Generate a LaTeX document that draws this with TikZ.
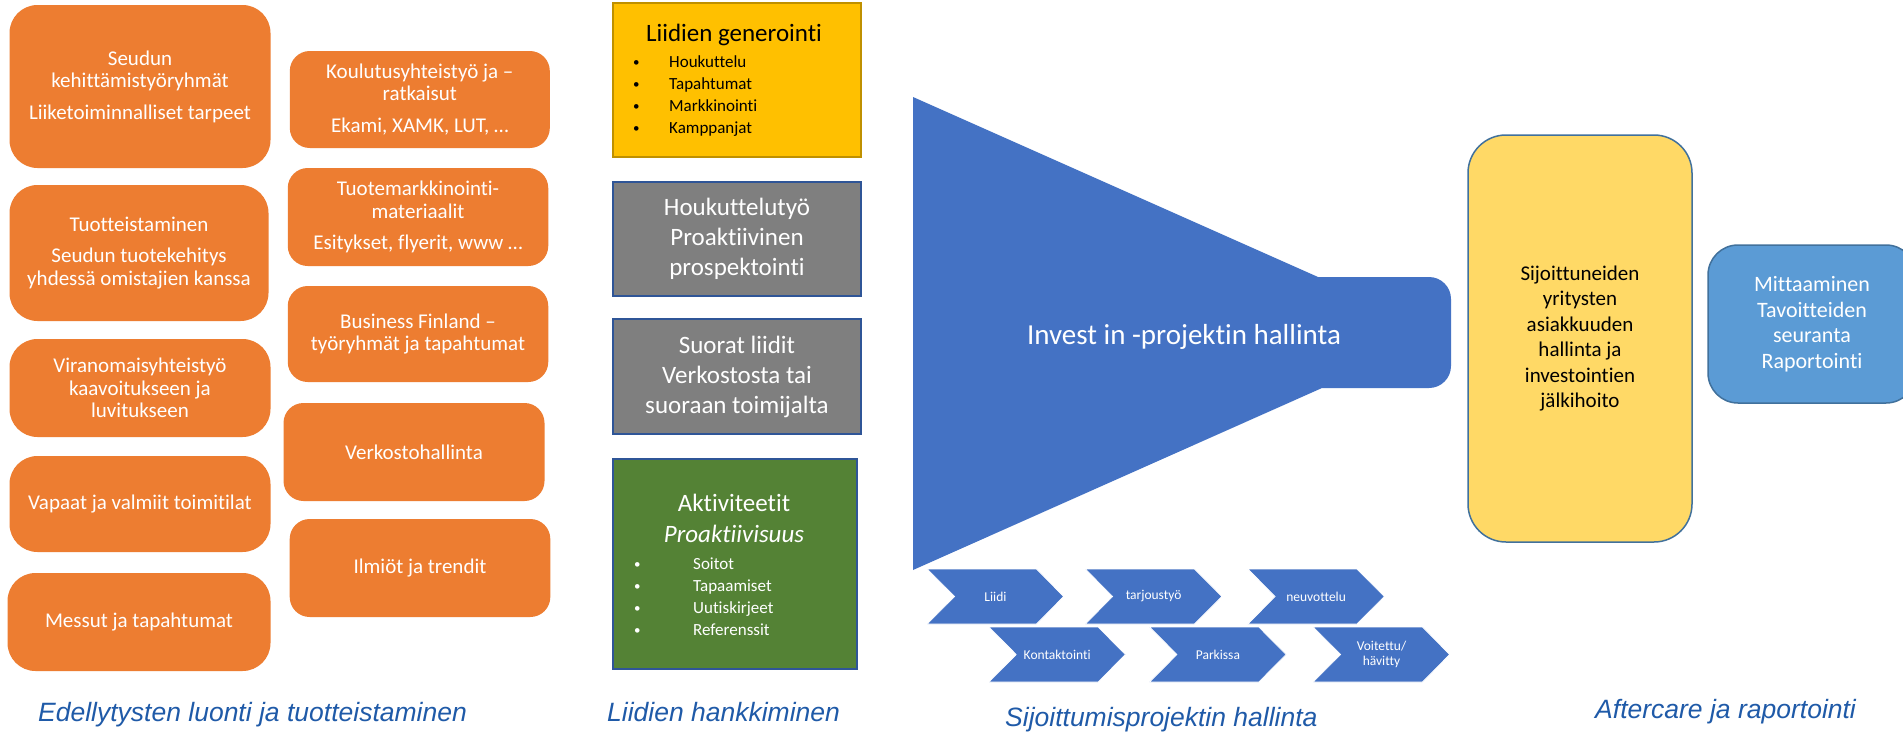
\documentclass[tikz,border=0pt]{standalone}
\usepackage{fontspec}
\setmainfont[Ligatures=NoCommon]{Carlito}
\newfontfamily\capfont{Liberation Sans}
\definecolor{orgc}{HTML}{ED7D31}
\definecolor{goldc}{HTML}{FFC000}
\definecolor{goldb}{HTML}{BF9000}
\definecolor{grayc}{HTML}{7F7F7F}
\definecolor{navyb}{HTML}{2F5597}
\definecolor{greenc}{HTML}{548235}
\definecolor{func}{HTML}{4472C4}
\definecolor{lyel}{HTML}{FFD966}
\definecolor{steelb}{HTML}{41719C}
\definecolor{lblue}{HTML}{5B9BD5}
\definecolor{capblue}{HTML}{1F5AA8}
\newcommand\chevr[4]{%
  \fill[func, draw=white, line width=0.6pt] (#2,#3) -- ++(109,0) -- ++(27.3,27.5) -- ++(-27.3,27.5) -- ++(-109,0) -- ++(27.3,-27.5) -- cycle;
  \node[chtext] (#1) at (#2+68.2,#3+27.5) {#4};
}
\begin{document}
\begin{tikzpicture}[x=1pt,y=-1pt,
  sz/.style 2 args={minimum width=#1pt, minimum height=#2pt},
  obox/.style={rectangle, rounded corners=28pt, fill=orgc, text=white, inner sep=0pt, align=center, font=\fontsize{21}{22.5}\selectfont},
  rbox/.style={obox, rounded corners=20pt},
  sqbox/.style={rectangle, inner sep=0pt, line width=1.6pt, align=center},
  bigtxt/.style={font=\fontsize{25}{30}\selectfont, inner sep=0pt, align=center},
  bul/.style={font=\fontsize{17}{20}\selectfont, inner sep=0pt, anchor=base west},
  dot/.style={font=\fontsize{13}{15}\selectfont, inner sep=0pt, anchor=base west},
  chtext/.style={font=\fontsize{13.5}{14.5}\selectfont, text=white, inner sep=0pt, align=center},
  captxt/.style={font=\capfont\itshape\fontsize{26.5}{30}\selectfont, text=capblue, inner sep=0pt, anchor=base west}
]
\useasboundingbox (0,0) rectangle (1903,731);
\fill[white] (0,0) rectangle (1903,731);

% left column
\node[obox, sz={261}{163}] (a) at (140,86.5) {Seudun\\kehittämistyöryhmät\\[9pt]Liiketoiminnalliset tarpeet};
\node[obox, sz={259}{136}] (d) at (139,253) {Tuotteistaminen\\[9pt]Seudun tuotekehitys\\yhdessä omistajien kanssa};
\node[obox, sz={261}{98}] (f) at (140,388) {Viranomaisyhteistyö\\kaavoitukseen ja\\luvitukseen};
\node[obox, sz={261}{96}] (h) at (140,504) {Vapaat ja valmiit toimitilat};
\node[obox, sz={263}{98}] (j) at (139,622) {Messut ja tapahtumat};
% second column
\node[rbox, sz={260}{97}] (b) at (419.8,99.5) {Koulutusyhteistyö ja –\\ratkaisut\\[9pt]Ekami, XAMK, LUT, …};
\node[rbox, sz={260.5}{98}] (c) at (418,217) {Tuotemarkkinointi-\\materiaalit\\[9pt]Esitykset, flyerit, www …};
\node[rbox, sz={260.5}{96}] (e) at (418,334) {Business Finland –\\työryhmät ja tapahtumat};
\node[rbox, sz={261}{98}] (g) at (414,452) {Verkostohallinta};
\node[rbox, sz={260.6}{98}] (i) at (420,568) {Ilmiöt ja trendit};

% middle column
\node[sqbox, sz={248}{154}, fill=goldc, draw=goldb] (gen) at (737,80) {};
\node[bigtxt, anchor=base] (gent) at (734,41) {Liidien generointi};
\foreach \t/\yy [count=\k] in {Houkuttelu/67,Tapahtumat/89,Markkinointi/111,Kamppanjat/133}{
  \node[dot] (gb\k) at (633,\yy-1) {•};
  \node[bul] (gl\k) at (669,\yy) {\t};
}
\node[sqbox, sz={248}{114}, fill=grayc, draw=navyb, text=white, font=\fontsize{25}{30}\selectfont] (hou) at (737,239) {Houkuttelutyö\\Proaktiivinen\\prospektointi};
\node[sqbox, sz={248}{115}, fill=grayc, draw=navyb, text=white, font=\fontsize{25}{30}\selectfont] (suo) at (737,376.5) {Suorat liidit\\Verkostosta tai\\suoraan toimijalta};
\node[sqbox, sz={244}{210}, fill=greenc, draw=navyb] (akt) at (735,564) {};
\node[bigtxt, anchor=base, text=white] (aktt) at (734,511) {Aktiviteetit};
\node[bigtxt, anchor=base, text=white, font=\fontsize{25}{30}\selectfont\itshape] (pro) at (734,542) {Proaktiivisuus};
\foreach \t/\yy [count=\k] in {Soitot/569,Tapaamiset/591,Uutiskirjeet/613,Referenssit/635}{
  \node[dot, text=white] (ab\k) at (634,\yy-1) {•};
  \node[bul, text=white] (al\k) at (693,\yy) {\t};
}

% funnel
\fill[func] (913,97) -- (1318,277) -- (1429,277) arc[start angle=-90, end angle=0, radius=22] -- (1451,366) arc[start angle=0, end angle=90, radius=22] -- (1322,388) -- (913,570) -- cycle;
\node[font=\fontsize{29}{32}\selectfont, text=white, inner sep=0pt] (fun) at (1184,337) {Invest in -projektin hallinta};

% chevrons
\chevr{ch1}{927.3}{569}{Liidi}
\chevr{ch2}{1085.4}{569}{tarjoustyö}
\chevr{ch3}{1247.9}{569}{neuvottelu}
\chevr{ch4}{989}{627}{Kontaktointi}
\chevr{ch5}{1149.7}{627}{Parkissa}
\chevr{ch6}{1313.3}{627}{Voitettu/\\hävitty}

% right column
\node[rectangle, rounded corners=38pt, sz={224}{407}, fill=lyel, draw=steelb, line width=1.5pt, align=center, font=\fontsize{21}{25.5}\selectfont] (aft) at (1580,338.5) {Sijoittuneiden\\yritysten\\asiakkuuden\\hallinta ja\\investointien\\jälkihoito};
\node[rectangle, rounded corners=30pt, sz={208}{158}, fill=lblue, draw=steelb, line width=1.5pt, text=white, align=center, font=\fontsize{22}{25.5}\selectfont] (mit) at (1812,324) {Mittaaminen\\Tavoitteiden\\seuranta\\Raportointi};

% captions
\node[captxt] (cap1) at (38,721) {Edellytysten luonti ja tuotteistaminen};
\node[captxt] (cap2) at (607,721) {Liidien hankkiminen};
\node[captxt] (cap3) at (1005,726) {Sijoittumisprojektin hallinta};
\node[captxt] (cap4) at (1595,718) {Aftercare ja raportointi};
\end{tikzpicture}
\end{document}
